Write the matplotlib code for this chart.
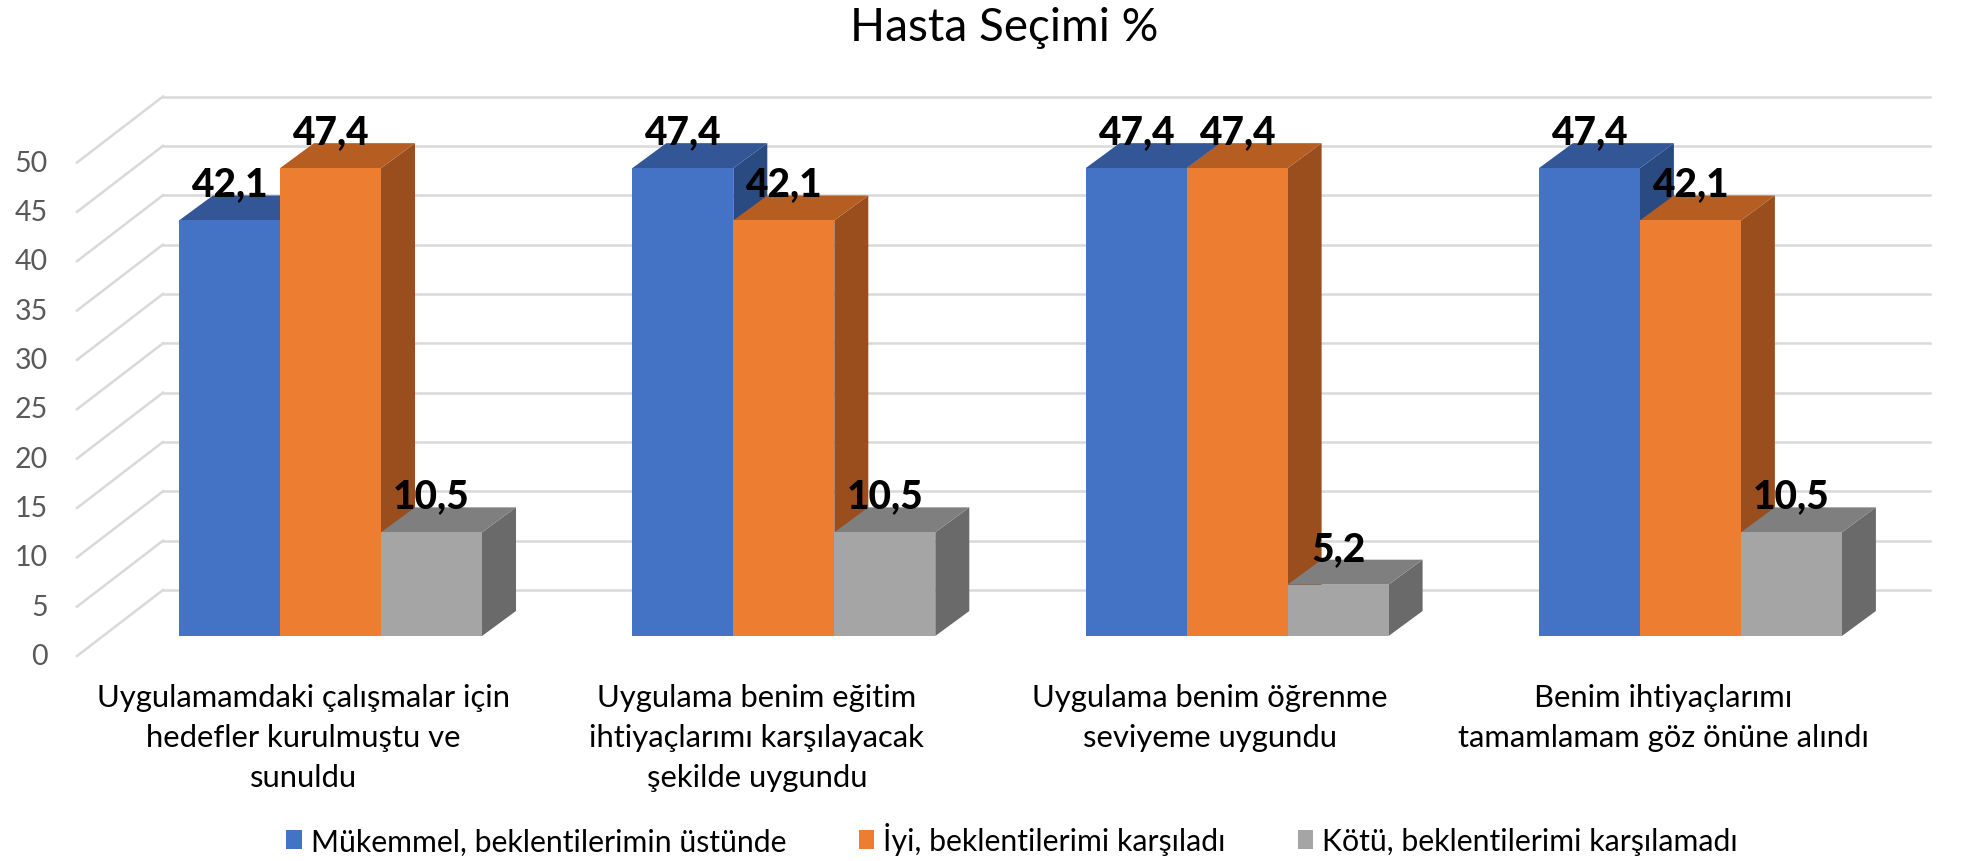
import matplotlib
matplotlib.use("Agg")
import matplotlib.pyplot as plt
from matplotlib.patches import Polygon, Patch

plt.rcParams["font.family"] = ["Lato", "DejaVu Sans"]

# data
title = "Hasta Seçimi %"
categories = [
    "Uygulamamdaki çalışmalar için\nhedefler kurulmuştu ve\nsunuldu",
    "Uygulama benim eğitim\nihtiyaçlarımı karşılayacak\nşekilde uygundu",
    "Uygulama benim öğrenme\nseviyeme uygundu",
    "Benim ihtiyaçlarımı\ntamamlamam göz önüne alındı",
]
series_names = [
    "Mükemmel, beklentilerimin üstünde",
    "İyi, beklentilerimi karşıladı",
    "Kötü, beklentilerimi karşılamadı",
]
mukemmel = [42.1, 47.4, 47.4, 47.4]
iyi = [47.4, 42.1, 47.4, 42.1]
kotu = [10.5, 10.5, 5.2, 10.5]
y_ticks = [0, 5, 10, 15, 20, 25, 30, 35, 40, 45, 50]

# face colours: front, top, side
colors = [
    ("#4472C4", "#335696", "#2A4A82"),
    ("#ED7D31", "#B65D22", "#9A4E1E"),
    ("#A5A5A5", "#7F7F7F", "#6A6A6A"),
]

# layout (pixels of the 1977x862 canvas)
W, H = 1977, 862
PX_X = 453.3      # px per category step
PX_Y = 9.87       # px per value unit
X0_PX = 330.5     # centre of first group (front plane)
Y0_PX = 637       # value 0 on the front plane of the bars

bar_w = 101 / PX_X
dx = 34 / PX_X    # bar depth
dy = 25 / PX_Y
wall_left = (163 - X0_PX) / PX_X
wall_right = (1930 - X0_PX) / PX_X
wall_dy = 46 / PX_Y
side_front_x = (77 - X0_PX) / PX_X
floor_dy = -20 / PX_Y

fig = plt.figure(figsize=(W / 100, H / 100), dpi=100)
x_lo, x_hi = -0.5, 3.5
y_lo, y_hi = 0, 55
ax = fig.add_axes([
    (X0_PX + x_lo * PX_X) / W,
    (H - Y0_PX) / H,
    (x_hi - x_lo) * PX_X / W,
    (y_hi - y_lo) * PX_Y / H,
])
ax.set_xlim(x_lo, x_hi)
ax.set_ylim(y_lo, y_hi)
ax.axis("off")

grid_c = "#D9D9D9"
for v in y_ticks:
    ax.plot([wall_left, wall_right], [v + wall_dy, v + wall_dy], color=grid_c,
            lw=1.8, zorder=1, clip_on=False)
    ax.plot([side_front_x, wall_left], [v + floor_dy, v + wall_dy], color=grid_c,
            lw=1.8, zorder=1, clip_on=False)
    ax.text((48 - X0_PX) / PX_X, v + floor_dy, str(v), ha="right", va="center",
            color="#595959", fontsize=20.5)

all_series = [mukemmel, iyi, kotu]
for s, vals in enumerate(all_series):
    front, top, side = colors[s]
    xs = [i + (s - 1) * bar_w for i in range(len(vals))]
    ax.bar(xs, vals, width=bar_w, color=front, zorder=5 + 3 * s, clip_on=False)
    for x, v in zip(xs, vals):
        xl, xr = x - bar_w / 2, x + bar_w / 2
        ax.add_patch(Polygon([(xr, 0), (xr, v), (xr + dx, v + dy), (xr + dx, dy)],
                             closed=True, facecolor=side, edgecolor="none",
                             zorder=3 + 3 * s, clip_on=False))
        ax.add_patch(Polygon([(xl, v), (xr, v), (xr + dx, v + dy), (xl + dx, v + dy)],
                             closed=True, facecolor=top, edgecolor="none",
                             zorder=4 + 3 * s, clip_on=False))
        ax.text(x, v + dy, f"{v:.1f}".replace(".", ","), ha="center", va="baseline",
                fontsize=28, fontweight="black", color="black", zorder=20)

for i, lab in enumerate(categories):
    ax.text(i - 27 / PX_X, (Y0_PX - 684) / PX_Y, lab, ha="center", va="top",
            fontsize=22.3, linespacing=1.52, color="black")

fig.text(0.508, 1 - 28 / H, title, ha="center", va="center", fontsize=33, color="black")

handles = [Patch(facecolor=c[0], edgecolor="none") for c in colors]
fig.legend(handles, series_names, loc="center", bbox_to_anchor=(0.512, 1 - 840 / H),
           ncol=3, frameon=False, fontsize=21.8, handlelength=0.5, handleheight=0.6,
           handletextpad=0.3, columnspacing=2.4)

fig.savefig("out.png", dpi=100)
